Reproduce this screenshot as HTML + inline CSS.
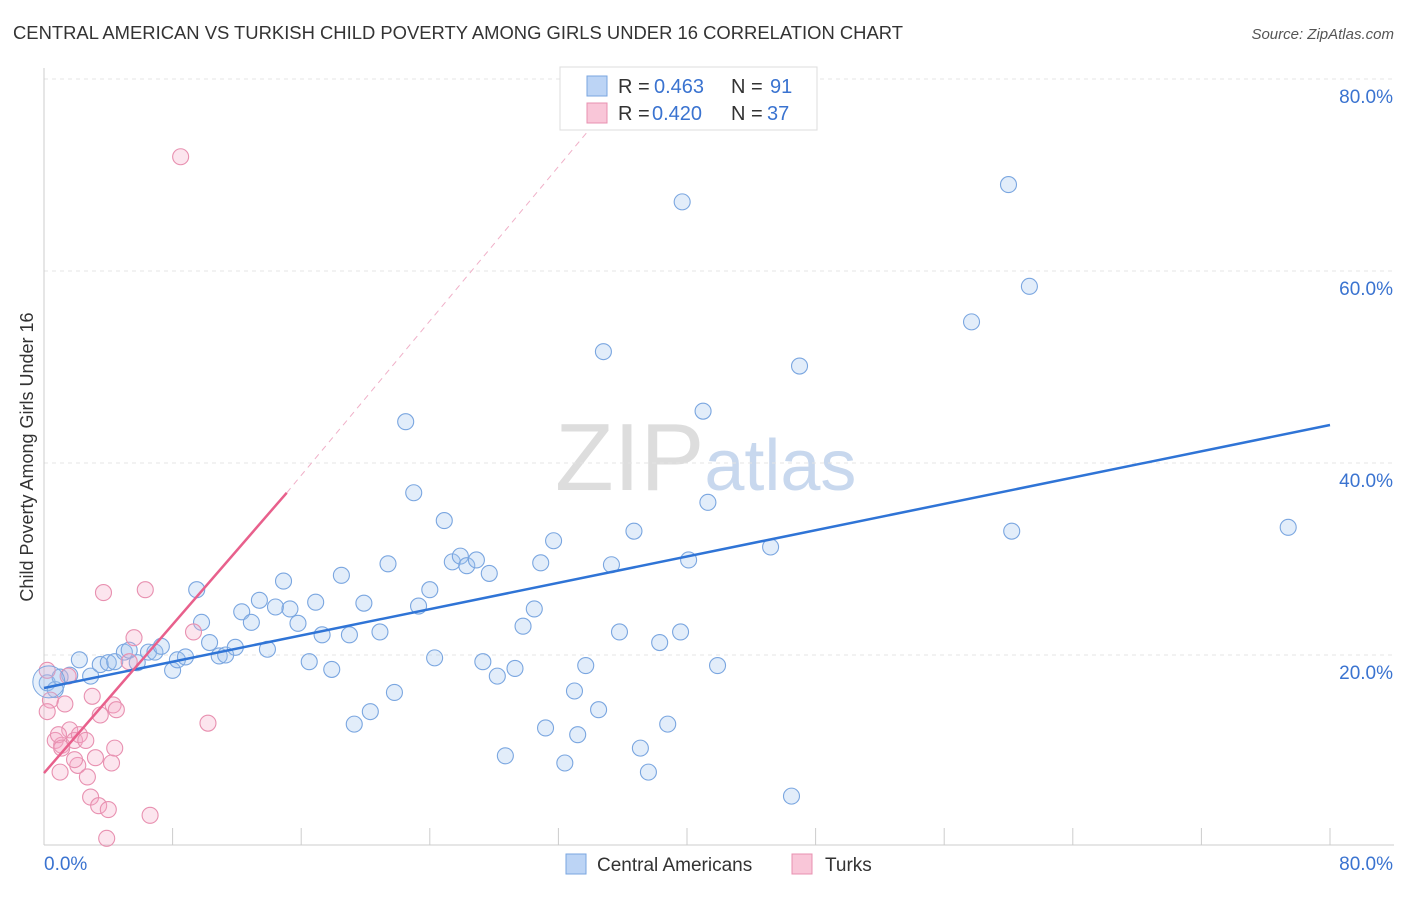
<!DOCTYPE html>
<html><head><meta charset="utf-8">
<style>
body{margin:0;background:#fff;font-family:"Liberation Sans",sans-serif;}
svg text{font-family:"Liberation Sans",sans-serif;}
</style></head>
<body>
<svg id="chart" width="1406" height="892" xmlns="http://www.w3.org/2000/svg">
<text x="13" y="39" font-size="18" fill="#333" textLength="890" lengthAdjust="spacingAndGlyphs">CENTRAL AMERICAN VS TURKISH CHILD POVERTY AMONG GIRLS UNDER 16 CORRELATION CHART</text>
<text x="1394" y="39" font-size="15" fill="#555" text-anchor="end" font-style="italic">Source: ZipAtlas.com</text>
<text transform="translate(33,457) rotate(-90)" font-size="18" fill="#333" text-anchor="middle">Child Poverty Among Girls Under 16</text>
<text x="555" y="490" font-size="96" fill="#ddd" font-family="Liberation Serif">ZIP<tspan fill="#c8d8ee" font-family="Liberation Sans" font-size="72">atlas</tspan></text>
<g id="grid"></g><g id="marks"></g>
<g>
<rect x="560" y="67" width="257" height="63" fill="#fff" stroke="#ddd"/>
<rect x="587" y="76" width="20" height="20" fill="#bcd4f5" stroke="#7aa6e0"/>
<text x="618" y="93" font-size="20" fill="#333">R = </text>
<text x="654" y="93" font-size="20" fill="#3a73d0">0.463</text>
<text x="731" y="93" font-size="20" fill="#333">N = </text>
<text x="770" y="93" font-size="20" fill="#3a73d0">91</text>
<rect x="587" y="103" width="20" height="20" fill="#f9c6d8" stroke="#e890b0"/>
<text x="618" y="120" font-size="20" fill="#333">R = </text>
<text x="652" y="120" font-size="20" fill="#3a73d0">0.420</text>
<text x="731" y="120" font-size="20" fill="#333">N = </text>
<text x="767" y="120" font-size="20" fill="#3a73d0">37</text>
</g>
<g>
<rect x="566" y="854" width="20" height="20" fill="#bcd4f5" stroke="#7aa6e0"/>
<text x="597" y="871" font-size="19" fill="#333">Central Americans</text>
<rect x="792" y="854" width="20" height="20" fill="#f9c6d8" stroke="#e890b0"/>
<text x="825" y="871" font-size="19" fill="#333">Turks</text>
</g>
</svg>
<script>
const blueX=[0.2,0.7,1.0,1.6,2.2,2.9,3.5,4.0,4.4,5.0,5.3,5.8,6.5,6.9,7.3,8.0,8.3,8.8,9.5,9.8,10.3,10.9,11.3,11.9,12.3,12.9,13.4,13.9,14.4,14.9,15.3,15.8,16.5,16.9,17.3,17.9,18.5,19.0,19.3,19.9,20.3,20.9,21.4,21.8,22.5,23.0,23.3,24.0,24.3,24.9,25.4,25.9,26.3,26.9,27.3,27.7,28.2,28.7,29.3,29.8,30.5,31.2,30.9,31.7,32.4,33.0,33.2,33.7,34.5,34.8,35.3,35.8,36.7,37.1,37.6,38.3,38.8,39.6,39.7,40.1,41.0,41.3,41.9,45.2,46.5,47.0,57.7,60.0,60.2,61.3,77.4];
const blueY=[17.1,16.4,17.7,17.9,19.5,17.8,19.0,19.2,19.3,20.3,20.5,19.2,20.3,20.3,20.9,18.4,19.5,19.8,26.8,23.4,21.3,19.9,20.0,20.8,24.5,23.4,25.7,20.6,25.0,27.7,24.8,23.3,19.3,25.5,22.1,18.5,28.3,22.1,12.8,25.4,14.1,22.4,29.5,16.1,44.3,36.9,25.1,26.8,19.7,34.0,29.7,30.3,29.3,29.9,19.3,28.5,17.8,9.5,18.6,23.0,24.8,12.4,29.6,31.9,8.75,16.25,11.7,18.9,14.3,51.6,29.4,22.4,32.9,10.3,7.8,21.3,12.8,22.4,67.2,29.9,45.4,35.9,18.9,31.25,5.3,50.1,54.7,69.0,32.9,58.4,33.3];
const pinkX=[0.2,0.4,0.7,1.0,1.1,1.3,1.6,1.9,2.2,2.1,2.6,2.7,3.0,2.9,3.2,3.4,3.5,4.0,4.2,4.4,4.3,4.5,3.7,5.3,5.6,6.3,6.6,8.5,9.3,10.2,3.9,1.5,0.9,0.2,1.9,1.1];
const pinkY=[18.4,15.3,11.1,7.8,10.6,14.9,12.2,11.1,11.7,8.5,11.1,7.3,15.7,5.2,9.3,4.3,13.75,3.9,8.75,10.3,14.8,14.3,26.5,19.3,21.8,26.8,3.3,71.9,22.4,12.9,0.9,17.8,11.7,14.1,9.1,10.3];
const blueTrend=[[0,16.56],[80,43.96]];
const pinkTrend=[[0,7.7],[15.1,36.9]];
const pinkDash=[[15.1,36.9],[34.8,76.5]];
const yTicks=[20,40,60,80];
const xTicks=[0,8,16,24,32,40,48,56,64,72,80];
const NS="http://www.w3.org/2000/svg";
const sx=v=>44+v*16.075, sy=v=>847-v*9.6;
function mk(t,a,p){const e=document.createElementNS(NS,t);for(const k in a)e.setAttribute(k,a[k]);p.appendChild(e);return e;}
const grid=document.getElementById('grid'),marks=document.getElementById('marks');
yTicks.forEach(t=>{
 const l=mk('line',{x1:44,x2:1394,y1:sy(t),y2:sy(t),stroke:'#e4e4e4','stroke-dasharray':'4,4'},grid);
 
 
 const tx=mk('text',{x:1393,y:sy(t)+24,'font-size':19,fill:'#3a73d0','text-anchor':'end'},grid);
 tx.textContent=t.toFixed(1)+'%';
 
 
});
mk('line',{x1:44,x2:44,y1:68,y2:845,stroke:'#ccc'},grid);
mk('line',{x1:44,x2:1394,y1:845,y2:845,stroke:'#ccc'},grid);
xTicks.forEach(t=>{
 const l=mk('line',{x1:sx(t),x2:sx(t),y1:828,y2:845,stroke:'#ccc'},grid);
 
 
});
[[0,'start',44],[80,'end',1393]].forEach(([v,a,x])=>{
 const tx=mk('text',{x:x,y:870,'font-size':19,fill:'#3a73d0','text-anchor':a},grid);
 tx.textContent=v.toFixed(1)+'%';
 
 
});
function dots(X,Y,fill,stroke,name){
 X.forEach((x,i)=>{
  const c=mk('circle',{cx:sx(x),cy:sy(Y[i]),r:8,fill:fill,stroke:stroke,'stroke-width':1.1},marks);
  
  
 });
}
dots(blueX,blueY,'rgba(160,195,240,0.3)','#7aa6e0','central-american-point');
dots(pinkX,pinkY,'rgba(245,170,200,0.3)','#e890b0','turks-point');
const big=mk('circle',{cx:sx(0.3),cy:sy(17.2),r:16,fill:'rgba(160,195,240,0.25)',stroke:'#7aa6e0'},marks);


const bt=mk('line',{x1:sx(blueTrend[0][0]),y1:sy(blueTrend[0][1]),x2:sx(blueTrend[1][0]),y2:sy(blueTrend[1][1]),stroke:'#2f74d6','stroke-width':2.5},marks);


const pd=mk('line',{x1:sx(pinkDash[0][0]),y1:sy(pinkDash[0][1]),x2:sx(pinkDash[1][0]),y2:sy(pinkDash[1][1]),stroke:'#f0b0c8','stroke-width':1,'stroke-dasharray':'6,5'},marks);


const pt=mk('line',{x1:sx(pinkTrend[0][0]),y1:sy(pinkTrend[0][1]),x2:sx(pinkTrend[1][0]),y2:sy(pinkTrend[1][1]),stroke:'#e8608c','stroke-width':2.5},marks);


</script>
</body></html>
